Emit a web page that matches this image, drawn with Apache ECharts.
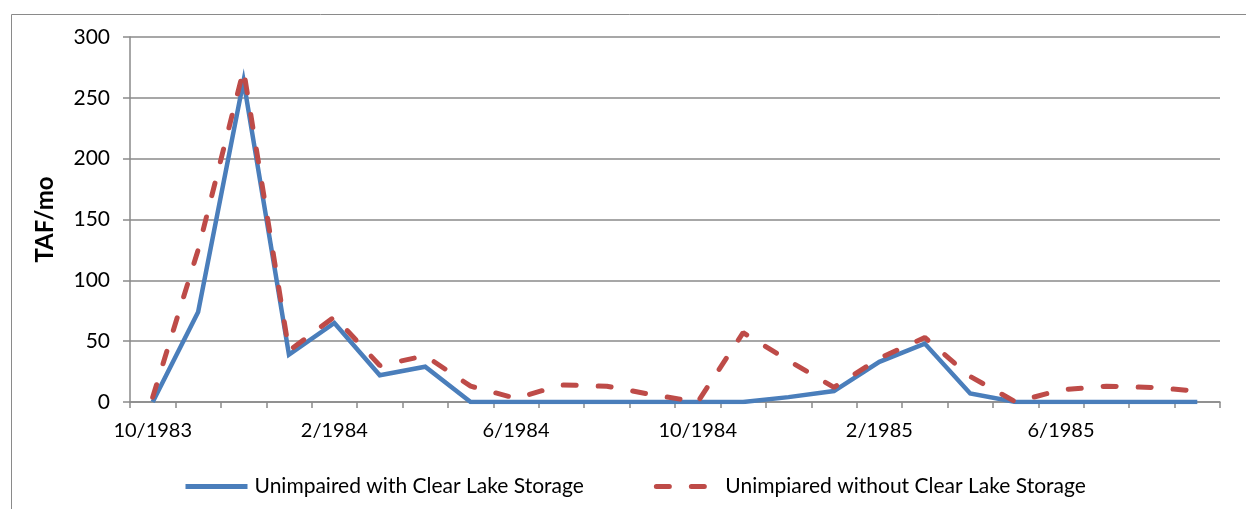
<!DOCTYPE html>
<html>
<head>
<meta charset="utf-8">
<title>Clear Lake storage – monthly unimpaired flow</title>
<script src="https://cdn.jsdelivr.net/npm/echarts@6/dist/echarts.min.js"></script>
<style>
  html, body { margin: 0; padding: 0; background: #ffffff; }
  #chart { width: 1246px; height: 509px; }
</style>
</head>
<body>
<div id="chart"></div>
<script>
// Monthly flow, water years 1984–1985 (TAF/mo)
const months = [
  '10/1983', '11/1983', '12/1983', '1/1984', '2/1984', '3/1984',
  '4/1984', '5/1984', '6/1984', '7/1984', '8/1984', '9/1984',
  '10/1984', '11/1984', '12/1984', '1/1985', '2/1985', '3/1985',
  '4/1985', '5/1985', '6/1985', '7/1985', '8/1985', '9/1985'
];
const withStorage = [0, 74, 264, 39, 65, 22, 29, 0, 0, 0, 0, 0, 0, 0, 4, 9, 33, 48, 7, 0, 0, 0, 0, 0];
const withoutStorage = [4, 125, 273, 42, 70, 30, 38, 13, 3, 14, 13, 6, 0, 57, 34, 12, 36, 53, 21, 0, 10, 13, 12, 9];
const yTicks = [0, 50, 100, 150, 200, 250, 300];

const seriesNames = ['Unimpaired with Clear Lake Storage', 'Unimpiared without Clear Lake Storage'];
const FONT = 'Lato, "Liberation Sans", sans-serif';
const GRID_GRAY = '#8a8a8a';

const chart = echarts.init(document.getElementById('chart'), null, { renderer: 'canvas' });

chart.setOption({
  animation: false,
  backgroundColor: '#ffffff',
  textStyle: { fontFamily: FONT, color: '#000000' },
  graphic: [{
    type: 'rect',
    left: 9, top: 12,
    shape: { width: 1300, height: 600 },
    style: { fill: 'none', stroke: '#8a8a8a', lineWidth: 1 },
    silent: true,
    z: -10
  }],
  grid: { left: 130, right: 26, top: 37, bottom: 107, containLabel: false },
  legend: {
    top: 471,
    left: 178,
    itemWidth: 62,
    itemHeight: 22,
    itemGap: 70,
    itemStyle: { opacity: 0 },
    lineStyle: { width: 5 },
    textStyle: { fontFamily: FONT, fontSize: 21, color: '#000000', padding: [0, 0, 0, 2] },
    data: seriesNames
  },
  xAxis: {
    type: 'category',
    data: months,
    boundaryGap: true,
    axisLine: { lineStyle: { color: GRID_GRAY, width: 1.5 } },
    axisTick: { show: true, interval: 0, length: 6, lineStyle: { color: GRID_GRAY, width: 1.5 } },
    axisLabel: { interval: 3, fontSize: 20, fontFamily: FONT, color: '#000000', margin: 19 },
    splitLine: { show: false }
  },
  yAxis: {
    type: 'value',
    min: yTicks[0],
    max: yTicks[yTicks.length - 1],
    interval: yTicks[1] - yTicks[0],
    name: 'TAF/mo',
    nameLocation: 'middle',
    nameGap: 73,
    nameRotate: 90,
    nameTextStyle: { fontFamily: FONT, fontSize: 24, fontWeight: 'bold', color: '#000000' },
    axisLine: { show: true, lineStyle: { color: GRID_GRAY, width: 1.5 } },
    axisTick: { show: true, length: 7, lineStyle: { color: GRID_GRAY, width: 1.5 } },
    axisLabel: { fontSize: 21, fontFamily: FONT, color: '#000000', margin: 20 },
    splitLine: { show: true, lineStyle: { color: GRID_GRAY, width: 1.5 } }
  },
  series: [
    {
      name: seriesNames[0],
      type: 'line',
      data: withStorage,
      symbol: 'none',
      color: '#4a7ebb',
      lineStyle: { color: '#4a7ebb', width: 4.5, join: 'miter' },
      z: 2
    },
    {
      name: seriesNames[1],
      type: 'line',
      data: withoutStorage,
      symbol: 'none',
      color: '#be4b48',
      lineStyle: { color: '#be4b48', width: 5, type: [13, 22], cap: 'round' },
      z: 3
    }
  ]
});
</script>
</body>
</html>
